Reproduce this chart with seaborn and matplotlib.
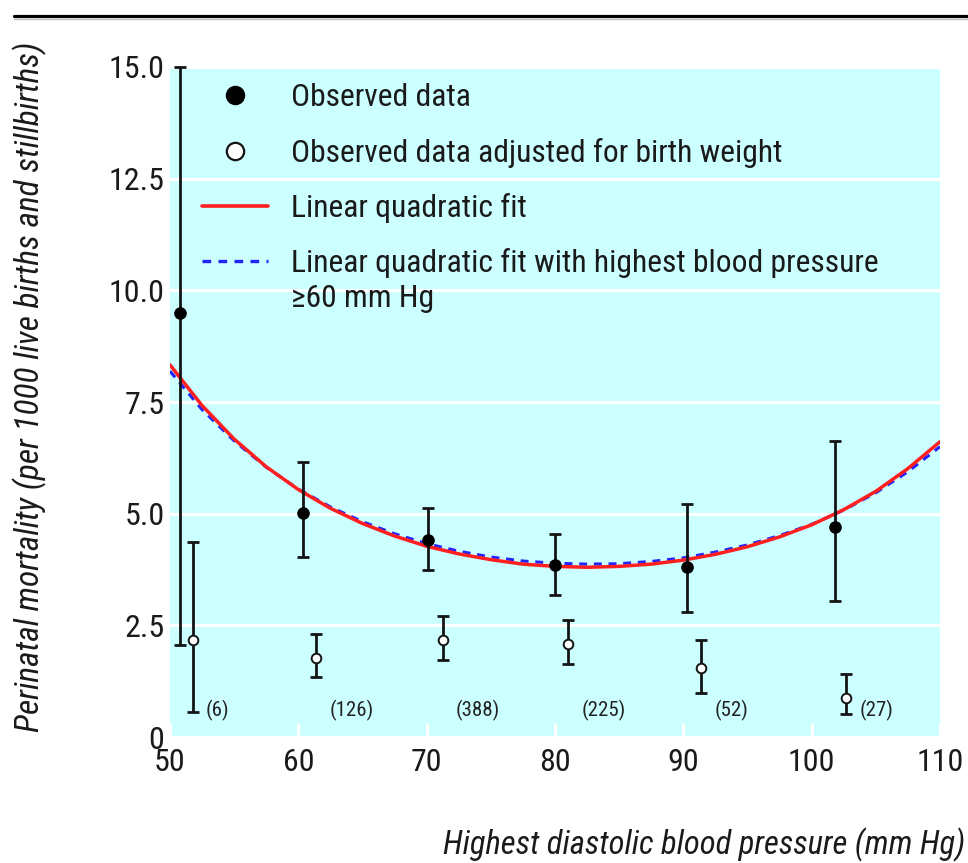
import matplotlib
matplotlib.use("Agg")
import matplotlib.pyplot as plt
from matplotlib.lines import Line2D
import seaborn as sns

# Observed perinatal mortality per blood pressure group (rate and 95% interval)
obs_bp = [50.8, 60.4, 70.1, 80.0, 90.3, 101.8]
obs_rate = [9.49, 5.01, 4.42, 3.86, 3.81, 4.70]
obs_low = [2.06, 4.04, 3.74, 3.17, 2.80, 3.04]
obs_high = [15.0, 6.16, 5.12, 4.54, 5.21, 6.63]

# Same groups adjusted for birth weight
adj_bp = [51.8, 61.4, 71.25, 81.05, 91.4, 102.7]
adj_rate = [2.17, 1.77, 2.18, 2.09, 1.55, 0.88]
adj_low = [0.57, 1.34, 1.73, 1.63, 0.99, 0.52]
adj_high = [4.37, 2.31, 2.70, 2.62, 2.18, 1.42]

# Number of deaths in each group
group_n = [6, 126, 388, 225, 52, 27]

# Fitted curves
fit_bp = [50, 52.5, 55, 57.5, 60, 62.5, 65, 67.5, 70, 72.5, 75, 77.5, 80,
          82.5, 85, 87.5, 90, 92.5, 95, 97.5, 100, 102.5, 105, 107.5, 110]
fit_all = [8.33, 7.42, 6.67, 6.05, 5.54, 5.12, 4.78, 4.50, 4.27, 4.10, 3.97,
           3.87, 3.82, 3.80, 3.82, 3.87, 3.96, 4.09, 4.26, 4.48, 4.75, 5.09,
           5.50, 6.01, 6.61]
fit_ge60 = [8.19, 7.33, 6.63, 6.04, 5.55, 5.15, 4.82, 4.55, 4.33, 4.16, 4.03,
            3.94, 3.89, 3.87, 3.88, 3.93, 4.01, 4.14, 4.30, 4.51, 4.76, 5.08,
            5.47, 5.94, 6.50]

y_ticks = [0, 2.5, 5.0, 7.5, 10.0, 12.5, 15.0]
y_tick_labels = ["0", "2.5", "5.0", "7.5", "10.0", "12.5", "15.0"]
x_ticks = [50, 60, 70, 80, 90, 100, 110]

legend_labels = ["Observed data",
                 "Observed data adjusted for birth weight",
                 "Linear quadratic fit",
                 "Linear quadratic fit with highest blood pressure",
                 "\u226560 mm Hg"]
x_label = "Highest diastolic blood pressure (mm Hg)"
y_label = "Perinatal mortality (per 1000 live births and stillbirths)"

PANEL = "#ccffff"
RED = "#ff1f1f"
BLUE = "#2323ff"
INK = "#141414"
TEXT = "#1a1a1a"

sns.set_theme(style="darkgrid", rc={
    "axes.facecolor": PANEL,
    "grid.color": "white",
    "grid.linewidth": 2.2,
    "axes.edgecolor": PANEL,
})
plt.rcParams["font.family"] = ["Liberation Sans Narrow", "Roboto Condensed",
                               "DejaVu Sans"]
plt.rcParams["font.stretch"] = "condensed"

W, H = 968, 863
fig = plt.figure(figsize=(W / 100, H / 100), dpi=100)
fig.patch.set_facecolor("white")
ax = fig.add_axes([170 / W, 1 - 737 / H, 770 / W, 670 / H])

# fitted curves
sns.lineplot(x=fit_bp, y=fit_ge60, ax=ax, color=BLUE, lw=2.2,
             linestyle=(0, (2.6, 2.2)), zorder=3)
sns.lineplot(x=fit_bp, y=fit_all, ax=ax, color=RED, lw=2.5, zorder=4)

# error bars
ax.errorbar(obs_bp, obs_rate,
            yerr=[[r - lo for r, lo in zip(obs_rate, obs_low)],
                  [hi - r for r, hi in zip(obs_rate, obs_high)]],
            fmt="none", ecolor=INK, elinewidth=2.0, capsize=4.3, capthick=2.0,
            zorder=5, clip_on=False)
ax.errorbar(adj_bp, adj_rate,
            yerr=[[r - lo for r, lo in zip(adj_rate, adj_low)],
                  [hi - r for r, hi in zip(adj_rate, adj_high)]],
            fmt="none", ecolor=INK, elinewidth=2.0, capsize=4.3, capthick=2.0,
            zorder=5)

# point estimates
sns.scatterplot(x=obs_bp, y=obs_rate, ax=ax, color="black", s=68,
                edgecolor="black", linewidth=0.8, zorder=6)
sns.scatterplot(x=adj_bp, y=adj_rate, ax=ax, color="white", s=48,
                edgecolor=INK, linewidth=1.4, zorder=6)

# group sizes
for x, n in zip(adj_bp, group_n):
    ax.text(x + 1.0, 0.6, f"({n})", ha="left", va="center",
            fontsize=15, color="#222222", zorder=7)

ax.set_xlim(50, 110)
ax.set_ylim(0, 15)
ax.set_xticks(x_ticks)
ax.set_xticklabels([str(t) for t in x_ticks])
ax.set_yticks(y_ticks)
ax.set_yticklabels(y_tick_labels)
ax.grid(axis="x", visible=False)
ax.grid(axis="y", visible=True, color="white", lw=2.2)
ax.tick_params(axis="x", direction="in", length=10, width=2.2, color="white",
               labelsize=23, pad=8, labelcolor=TEXT, bottom=True)
ax.tick_params(axis="y", length=0, labelsize=23, pad=4, labelcolor=TEXT)
for s in ax.spines.values():
    s.set_visible(False)

ax.set_xlabel(x_label, fontsize=23.5, style="italic", color=TEXT,
              ha="right", va="center")
ax.xaxis.set_label_coords((965 - 170) / 770, -(845 - 737) / 670)
ax.set_ylabel(y_label, fontsize=24, style="italic", color=TEXT,
              ha="center", va="center")
ax.yaxis.set_label_coords((30 - 170) / 770, (737 - 387) / 670)

# legend
handles = [
    Line2D([], [], ls="none", marker="o", ms=13, mfc="black", mec="black"),
    Line2D([], [], ls="none", marker="o", ms=12.5, mfc="white", mec=INK, mew=1.6),
    Line2D([], [], color=RED, lw=2.6),
    Line2D([], [], color=BLUE, lw=2.4, linestyle=(0, (2.6, 2.2))),
]
leg = ax.legend(handles, legend_labels[:4], loc="upper left",
                bbox_to_anchor=((202 - 170) / 770, 1 - (83.5 - 67) / 670),
                frameon=False, fontsize=22.8, handlelength=2.08,
                handletextpad=0.73, labelspacing=0.8, borderpad=0,
                borderaxespad=0)
for t in leg.get_texts():
    t.set_color(TEXT)

# continuation line of the last legend entry
fig.canvas.draw()
bb = leg.get_texts()[3].get_window_extent()
inv = fig.transFigure.inverted()
x0, yc = inv.transform((bb.x0, 0.5 * (bb.y0 + bb.y1) - 35))
fig.text(x0, yc, legend_labels[4], ha="left", va="center",
         fontsize=22.8, color=TEXT)

# rule across the top of the figure
fig.add_artist(Line2D([14 / W, 1], [1 - 16.5 / H] * 2, color="black",
                      lw=2.3, transform=fig.transFigure))
fig.add_artist(Line2D([14 / W, 1], [1 - 19.5 / H] * 2, color="#bbbbbb",
                      lw=1.0, transform=fig.transFigure))

fig.savefig("out.png", dpi=100, facecolor="white")
